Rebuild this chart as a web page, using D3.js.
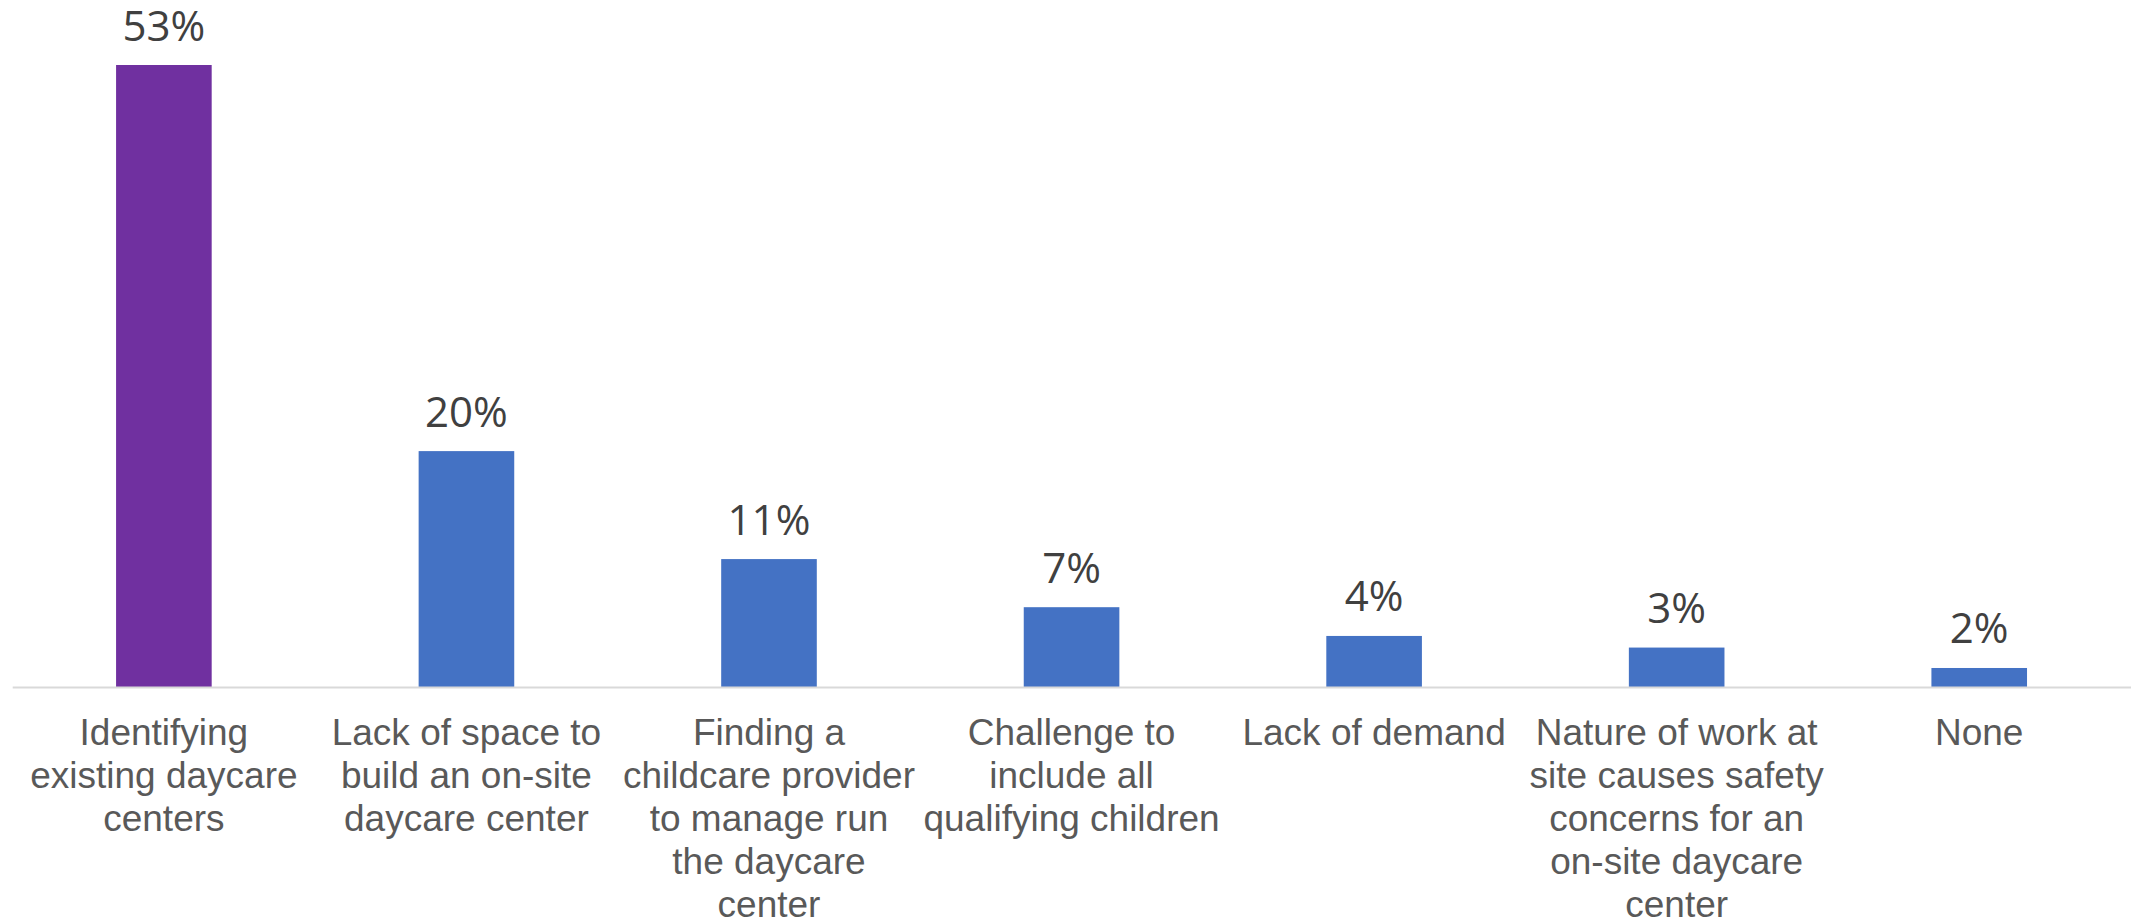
<!DOCTYPE html>
<html>
<head>
<meta charset="utf-8">
<script src="https://cdn.jsdelivr.net/npm/d3@7"></script>
<style>
  html, body { margin: 0; padding: 0; background: #fff; }
  svg { display: block; }
</style>
</head>
<body>
<svg id="chart" width="2131" height="920"></svg>
<script>
// ---- data ----
const categories = [
  "Identifying existing daycare centers",
  "Lack of space to build an on-site daycare center",
  "Finding a childcare provider to manage run the daycare center",
  "Challenge to include all qualifying children",
  "Lack of demand",
  "Nature of work at site causes safety concerns for an on-site daycare center",
  "None"
];
const categoryLines = [
  ["Identifying", "existing daycare", "centers"],
  ["Lack of space to", "build an on-site", "daycare center"],
  ["Finding a", "childcare provider", "to manage run", "the daycare", "center"],
  ["Challenge to", "include all", "qualifying children"],
  ["Lack of demand"],
  ["Nature of work at", "site causes safety", "concerns for an", "on-site daycare", "center"],
  ["None"]
];
const values = [53, 20.1, 10.9, 6.8, 4.35, 3.36, 1.62];
const valueLabels = ["53%", "20%", "11%", "7%", "4%", "3%", "2%"];
const barColors = ["#7030A0", "#4472C4", "#4472C4", "#4472C4", "#4472C4", "#4472C4", "#4472C4"];

// ---- layout ----
const svg = d3.select("#chart");
const baseY = 687;
const x = d3.scaleBand()
  .domain(categories)
  .range([12.6, 2130.5])
  .paddingInner(0.684)
  .paddingOuter(0.342);
const y = d3.scaleLinear()
  .domain([0, 53])
  .range([baseY, 65]);

// bars
svg.append("g").selectAll("rect")
  .data(categories)
  .join("rect")
  .attr("x", d => x(d))
  .attr("width", x.bandwidth())
  .attr("y", (d, i) => y(values[i]))
  .attr("height", (d, i) => baseY - y(values[i]))
  .attr("fill", (d, i) => barColors[i]);

// axis line
svg.append("line")
  .attr("x1", 12.7).attr("x2", 2131)
  .attr("y1", baseY + 0.5).attr("y2", baseY + 0.5)
  .attr("stroke", "#d9d9d9")
  .attr("stroke-width", 2);

// value labels
svg.append("g").selectAll("text")
  .data(categories)
  .join("text")
  .attr("x", d => x(d) + x.bandwidth() / 2)
  .attr("y", (d, i) => y(values[i]) - 24.5)
  .attr("text-anchor", "middle")
  .attr("font-family", "'Open Sans', sans-serif")
  .attr("font-size", 42)
  .attr("fill", "#404040")
  .text((d, i) => valueLabels[i]);

// category labels
const catG = svg.append("g");
categories.forEach((c, i) => {
  const t = catG.append("text")
    .attr("x", x(c) + x.bandwidth() / 2)
    .attr("y", 745)
    .attr("text-anchor", "middle")
    .attr("font-family", "'Liberation Sans', Arial, sans-serif")
    .attr("font-size", 37)
    .attr("fill", "#595959");
  categoryLines[i].forEach((ln, j) => {
    t.append("tspan")
      .attr("x", x(c) + x.bandwidth() / 2)
      .attr("dy", j === 0 ? 0 : 43)
      .text(ln);
  });
});
</script>
</body>
</html>
